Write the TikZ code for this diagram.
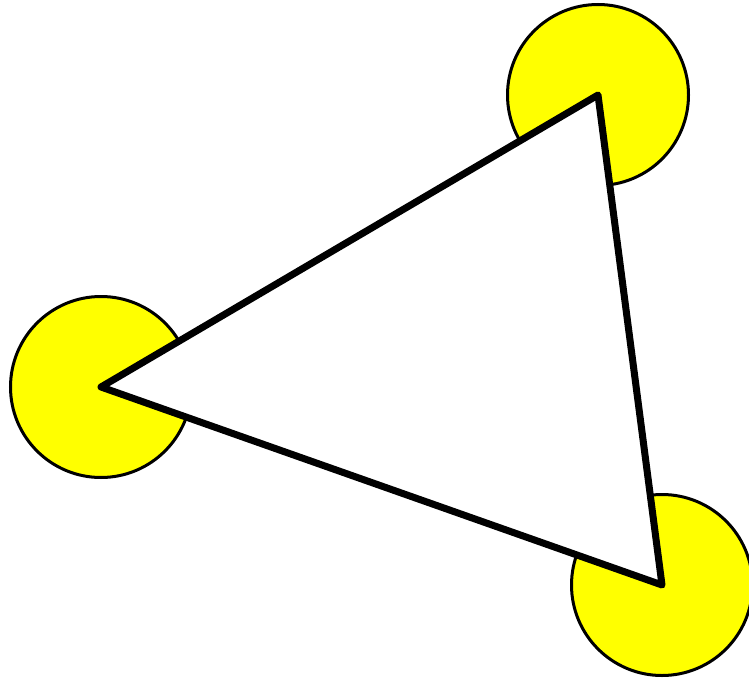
\documentclass[tikz,border=0pt]{standalone}
\definecolor{pureyellow}{RGB}{255,255,0}
\begin{document}
\begin{tikzpicture}[x=1pt,y=-1pt,
  disc/.style={circle,draw=black,fill=pureyellow,line width=3pt,minimum size=181pt,inner sep=0pt},
  tri/.style={draw=black,fill=white,line width=7pt,line join=round}]
\useasboundingbox (0,0) rectangle (749,679);
\node[disc] (a) at (598,95) {};
\node[disc] (b) at (101,387) {};
\node[disc] (c) at (662,585) {};
\draw[tri] (a.center) -- (b.center) -- (c.center) -- cycle;
\end{tikzpicture}
\end{document}
